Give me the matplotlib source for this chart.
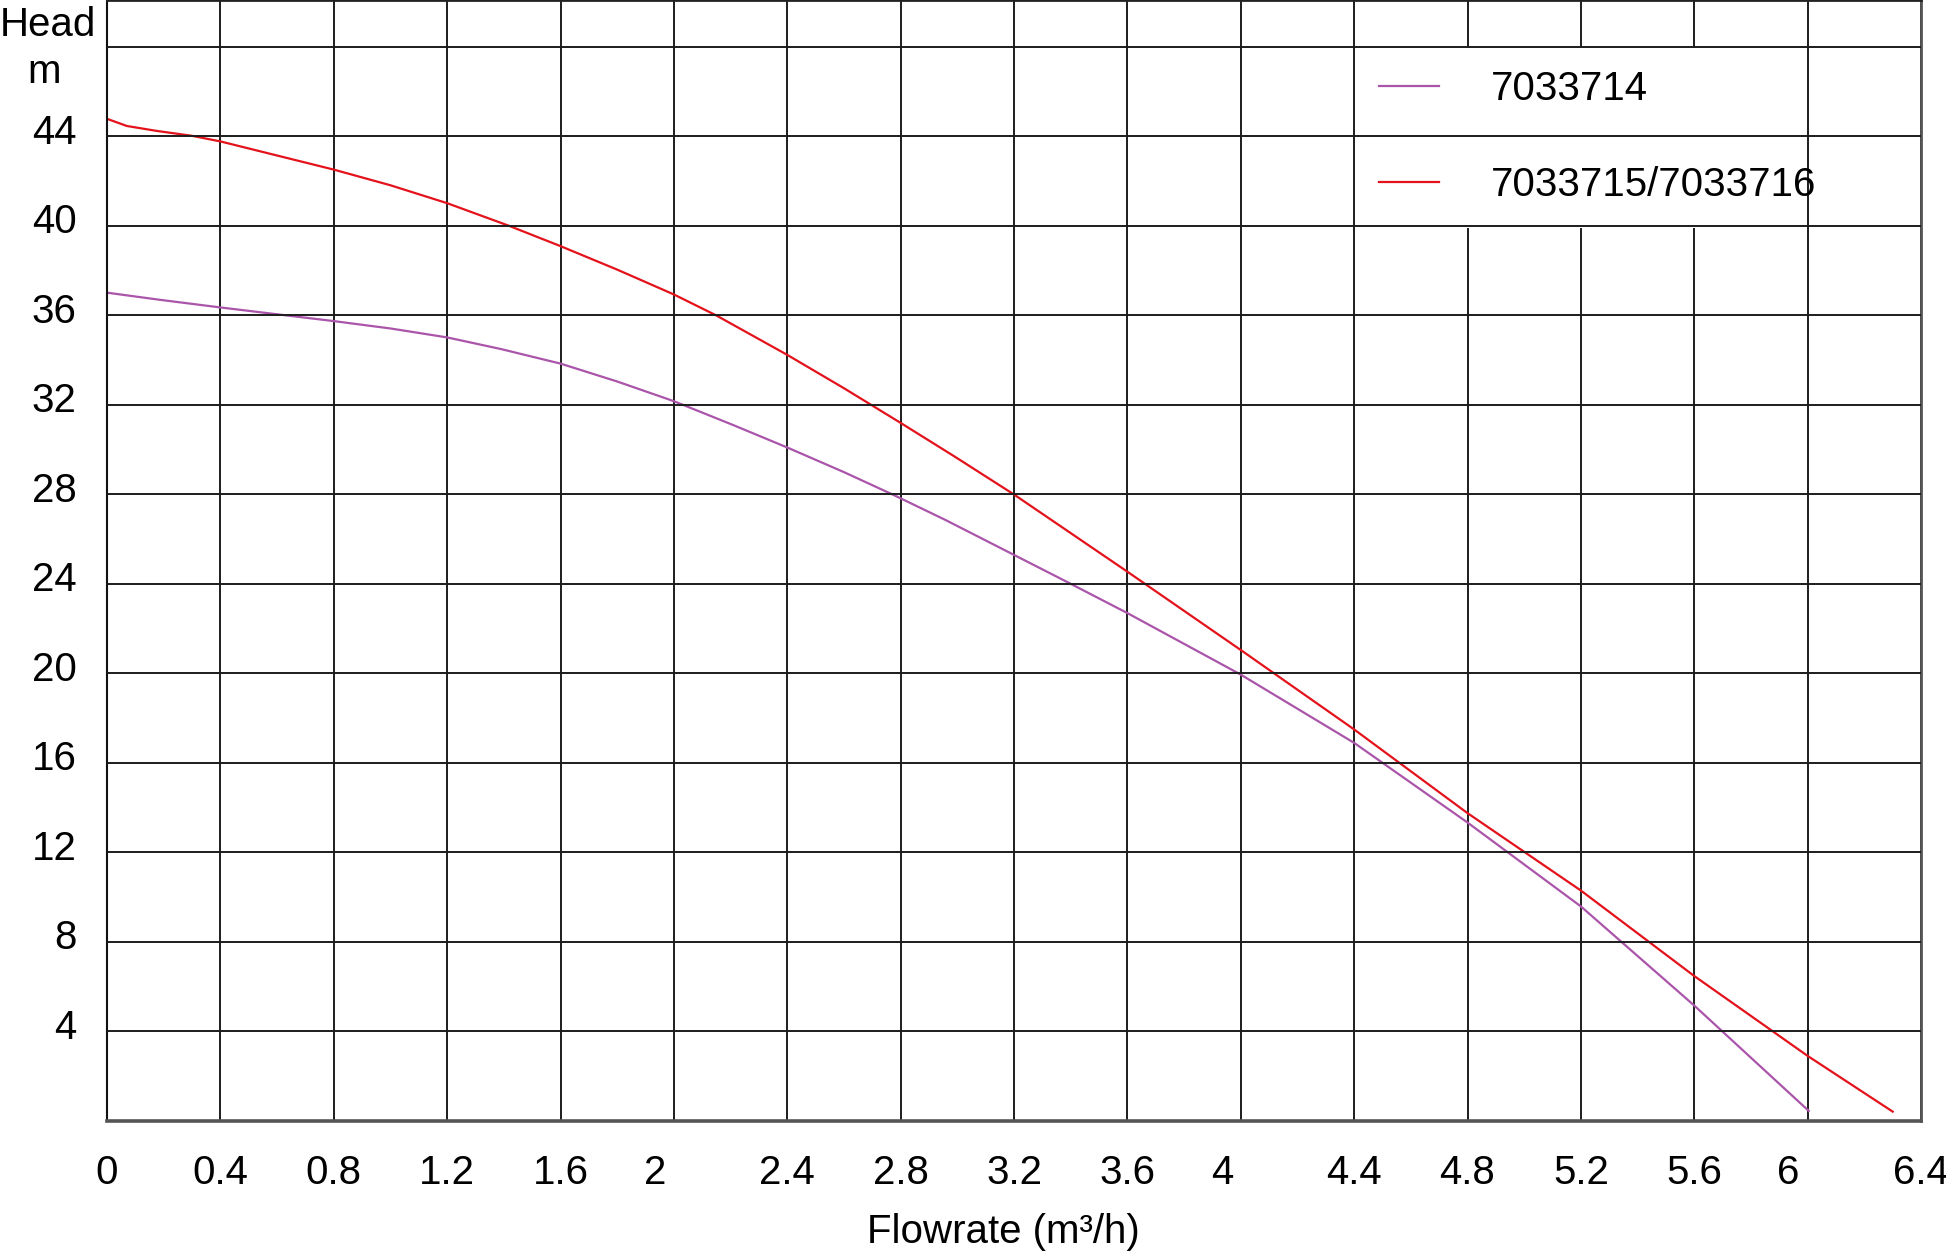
import matplotlib.pyplot as plt
from matplotlib.transforms import ScaledTranslation

# pump curves
flow_7033714 = [0.0, 0.187, 0.4, 0.655, 0.8, 1.0, 1.2, 1.39, 1.6, 1.8, 2.0, 2.21, 2.4, 2.6,
                2.78, 2.96, 3.2, 3.386, 3.6, 4.0, 4.4, 4.8, 5.2, 5.6, 6.004]
head_7033714 = [37.02, 36.7, 36.36, 35.97, 35.75, 35.42, 35.02, 34.5, 33.85, 33.05, 32.17, 31.1, 30.1, 29.0,
                27.95, 26.85, 25.3, 24.1, 22.7, 19.95, 16.9, 13.34, 9.59, 5.16, 0.45]

flow_7033715 = [0.0, 0.07, 0.175, 0.3, 0.4, 0.6, 0.8, 1.0, 1.2, 1.42, 1.6, 1.8, 2.0, 2.15,
                2.4, 2.6, 2.8, 2.99, 3.2, 3.6, 4.0, 4.4, 4.8, 5.2, 5.6, 6.0, 6.3]
head_7033715 = [44.79, 44.47, 44.25, 44.03, 43.78, 43.15, 42.52, 41.82, 41.02, 40.0, 39.1, 38.05, 36.94, 36.0,
                34.24, 32.75, 31.2, 29.7, 28.0, 24.55, 21.05, 17.5, 13.76, 10.3, 6.48, 2.91, 0.42]

x_ticks = [0, 0.4, 0.8, 1.2, 1.6, 2, 2.4, 2.8, 3.2, 3.6, 4, 4.4, 4.8, 5.2, 5.6, 6, 6.4]
x_labels = ['0', '0.4', '0.8', '1.2', '1.6', '2', '2.4', '2.8', '3.2', '3.6', '4',
            '4.4', '4.8', '5.2', '5.6', '6', '6.4']
y_ticks = [4, 8, 12, 16, 20, 24, 28, 32, 36, 40, 44, 48]
y_labels = ['4', '8', '12', '16', '20', '24', '28', '32', '36', '40', '44', '']

plt.rcParams['font.family'] = ['Liberation Sans', 'DejaVu Sans']
fs = 29
grid_c = '#1c1c1c'

fig = plt.figure(figsize=(19.46, 12.54), dpi=100)
ax = fig.add_axes([107 / 1946, 133 / 1254, 1814 / 1946, 1121 / 1254])

ax.plot(flow_7033714, head_7033714, color='#AA55AA', lw=1.6, label='7033714', zorder=2)
ax.plot(flow_7033715, head_7033715, color='#E3121B', lw=1.6, label='7033715/7033716', zorder=2)

ax.set_xlim(0, 6.4)
ax.set_ylim(0, 50.1)
ax.set_xticks(x_ticks)
ax.set_xticklabels(x_labels)
ax.set_yticks(y_ticks)
ax.set_yticklabels(y_labels)
ax.tick_params(length=0, labelsize=fs)
ax.tick_params(axis='x', pad=24)
ax.tick_params(axis='y', pad=22)
ax.grid(True, color=grid_c, lw=1.4)

# integer flow labels sit a bit left of their gridline in the original
for lab in ax.get_xticklabels():
    if lab.get_text() in ('2', '4', '6'):
        lab.set_transform(lab.get_transform() + ScaledTranslation(-0.19, 0, fig.dpi_scale_trans))
for lab in ax.get_yticklabels():
    lab.set_transform(lab.get_transform() + ScaledTranslation(0, 0.075, fig.dpi_scale_trans))

ax.spines['left'].set_color('#111111')
ax.spines['left'].set_linewidth(1.5)
ax.spines['top'].set_color('#222222')
ax.spines['top'].set_linewidth(2)
ax.spines['right'].set_color('#555555')
ax.spines['right'].set_linewidth(2)
ax.spines['bottom'].set_color('#555555')
ax.spines['bottom'].set_linewidth(2.6)

ax.set_xlabel('Flowrate (m³/h)', fontsize=fs)
ax.xaxis.set_label_coords(0.4939, -0.082)

fig.text(48 / 1946, 1 - 25 / 1254, 'Head', fontsize=fs, ha='center', va='center')
fig.text(44 / 1946, 1 - 72 / 1254, 'm', fontsize=fs, ha='center', va='center')

# vertical grid below the legend box, horizontal grid above it
ax.xaxis.set_zorder(1)
ax.yaxis.set_zorder(4)
leg = ax.legend(loc='upper left', bbox_to_anchor=(4.404, 48, 1.592, 0), bbox_transform=ax.transData,
                mode='expand', borderaxespad=0, fontsize=fs, handlelength=1.51,
                handletextpad=1.28, labelspacing=1.44, borderpad=0.58, fancybox=False,
                framealpha=1)
leg.get_frame().set_edgecolor('none')
leg.set_zorder(3)

fig.savefig('out.png', dpi=100)
